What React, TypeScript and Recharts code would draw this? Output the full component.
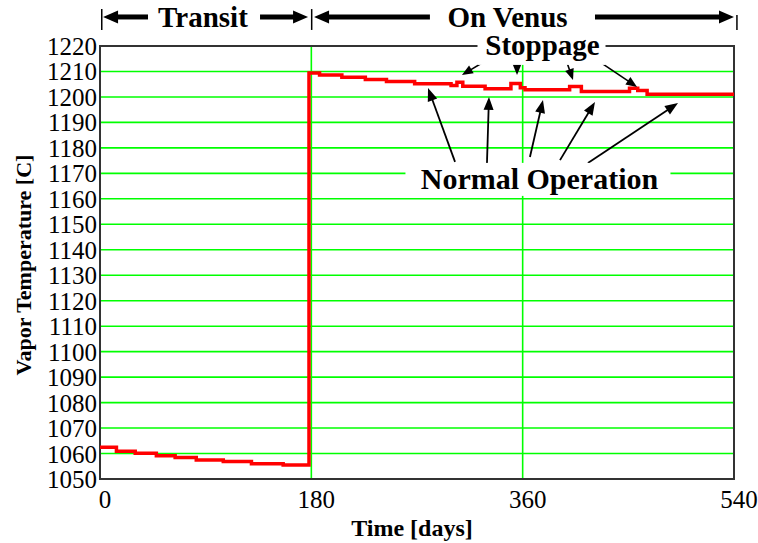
import React from 'react';
import {
  LineChart,
  Line,
  XAxis,
  YAxis,
  CartesianGrid,
  ReferenceLine,
  ReferenceDot,
  ReferenceArea,
} from 'recharts';

// ---- data ----
const days = [0, 14, 30, 48, 64, 82, 105, 129, 156, 178, 187, 206, 226, 244, 268, 299, 304, 309, 328, 350, 358, 362, 400, 410, 451, 458, 466, 540];
const temps = [
  1062.5, 1060.9, 1060.1, 1059.1, 1058.4, 1057.5, 1056.9, 1056.0, 1055.5,
  1209.4, 1208.6, 1207.7, 1206.8, 1206.1, 1205.2, 1204.5, 1205.8, 1204.2, 1203.2, 1205.3, 1203.6, 1202.8, 1204.1, 1202.1, 1203.4, 1202.5, 1201.1, 1201.1,
];
const xTicks = [0, 180, 360, 540];
const yTicks = [1050, 1060, 1070, 1080, 1090, 1100, 1110, 1120, 1130, 1140, 1150, 1160, 1170, 1180, 1190, 1200, 1210, 1220];

// annotation geometry in data units (day, °C)
const headerY = 1231.4;
const headerBars = [
  { x: 1.5, top: 1234.5, bottom: 1226.3 },
  { x: 180.3, top: 1234.5, bottom: 1226.3 },
  { x: 542.5, top: 1232.2, bottom: 1226.3 },
];
const headerArrows = [
  { from: 40.9, to: 2.6 },
  { from: 136.3, to: 177.2 },
  { from: 281.0, to: 182.3 },
  { from: 421.6, to: 540.0 },
];
const headerLabels = [
  { text: 'Transit', x: 87.7, y: 1227.4 },
  { text: 'On Venus', x: 347.1, y: 1227.6 },
];
const stoppageArrows = [
  { x1: 329.6, y1: 1214.5, x2: 308.3, y2: 1208.6 },
  { x1: 355.2, y1: 1215.3, x2: 355.2, y2: 1208.6 },
  { x1: 396.1, y1: 1215.7, x2: 402.9, y2: 1206.7 },
  { x1: 425.9, y1: 1213.7, x2: 457.4, y2: 1203.9 },
];
const normalArrows = [
  { x1: 302.4, y1: 1174.5, x2: 279.4, y2: 1203.5 },
  { x1: 329.6, y1: 1174.1, x2: 331.3, y2: 1200.0 },
  { x1: 366.2, y1: 1176.4, x2: 377.3, y2: 1198.8 },
  { x1: 391.8, y1: 1175.2, x2: 421.6, y2: 1198.0 },
  { x1: 415.6, y1: 1174.1, x2: 492.3, y2: 1197.6 },
];
const stoppageLabel = { text: 'Stoppage', x: 376.9, y: 1216.5 };
const normalLabel = { text: 'Normal Operation', x: 374.3, y: 1163.9 };

const data = days.map((d, i) => ({ day: d, temp: temps[i] }));

const FONT = '"Liberation Serif", "Times New Roman", Times, serif';

function arrowShape(w: number, headLen: number, headW: number) {
  return (p: any) => {
    const { x1, y1, x2, y2 } = p;
    if ([x1, y1, x2, y2].some((v) => typeof v !== 'number' || isNaN(v))) return <g />;
    const dx = x2 - x1;
    const dy = y2 - y1;
    const L = Math.hypot(dx, dy) || 1;
    const ux = dx / L;
    const uy = dy / L;
    const bx = x2 - ux * headLen;
    const by = y2 - uy * headLen;
    const nx = -uy;
    const ny = ux;
    return (
      <g>
        <line x1={x1} y1={y1} x2={bx + ux} y2={by + uy} stroke="#000" strokeWidth={w} />
        <polygon
          points={`${x2},${y2} ${bx + (nx * headW) / 2},${by + (ny * headW) / 2} ${bx - (nx * headW) / 2},${by - (ny * headW) / 2}`}
          fill="#000"
        />
      </g>
    );
  };
}

const barShape = (p: any) => <line x1={p.x1} y1={p.y1} x2={p.x2} y2={p.y2} stroke="#000" strokeWidth={1.5} />;

function textShape(text: string, size: number, rect?: { l: number; r: number; t: number; b: number }) {
  return (p: any) => (
    <g>
      {rect && (
        <rect x={p.cx - rect.l} y={p.cy - rect.t} width={rect.l + rect.r} height={rect.t + rect.b} fill="#fff" />
      )}
      <text x={p.cx} y={p.cy} textAnchor="middle" fontFamily={FONT} fontWeight="bold" fontSize={size} fill="#000">
        {text}
      </text>
    </g>
  );
}

const YTick = (p: any) => (
  <text x={p.x} y={p.y} dy="0.36em" textAnchor="end" fontFamily={FONT} fontSize={25} fill="#000">
    {p.payload.value}
  </text>
);
const XTick = (p: any) => (
  <text x={p.x + 5} y={p.y} dy="0.71em" textAnchor="middle" fontFamily={FONT} fontSize={25} fill="#000">
    {p.payload.value}
  </text>
);

const XTitle = (p: any) => {
  const vb = p.viewBox || { x: 100, y: 479, width: 634, height: 64 };
  return (
    <text x={vb.x + vb.width / 2 - 5} y={vb.y + 57} textAnchor="middle" fontFamily={FONT} fontWeight="bold" fontSize={24} fill="#000">
      Time [days]
    </text>
  );
};
const YTitle = (p: any) => {
  const vb = p.viewBox || { x: 0, y: 46, width: 100, height: 433 };
  const cx = vb.x + 31;
  const cy = vb.y + vb.height / 2 + 2.5;
  return (
    <text x={cx} y={cy} transform={`rotate(-90, ${cx}, ${cy})`} textAnchor="middle" fontFamily={FONT} fontWeight="bold" fontSize={22} fill="#000">
      Vapor Temperature [C]
    </text>
  );
};

export default function App() {
  return (
    <div style={{ position: 'absolute', left: 0, top: 0, width: 758, height: 543, background: '#fff' }}>
      <LineChart width={758} height={543} data={data} margin={{ top: 46, right: 24, bottom: 0, left: 0 }}>
        <CartesianGrid stroke="#00ff00" strokeWidth={1.6} horizontal vertical />
        <XAxis
          dataKey="day"
          type="number"
          domain={[0, 540]}
          ticks={xTicks}
          height={64}
          axisLine={false}
          tickLine={false}
          tickSize={0}
          tickMargin={11}
          tick={XTick}
          label={XTitle}
          allowDataOverflow
        />
        <YAxis
          type="number"
          domain={[1050, 1220]}
          ticks={yTicks}
          width={100}
          axisLine={false}
          tickLine={false}
          tickSize={0}
          tickMargin={3}
          tick={YTick}
          label={YTitle}
          interval={0}
          allowDataOverflow
        />
        <ReferenceArea x1={0} x2={540} y1={1050} y2={1220} fill="none" fillOpacity={0} stroke="#333" strokeWidth={2} ifOverflow="visible" />
        <Line dataKey="temp" type="stepAfter" stroke="#ff0000" strokeWidth={3.5} dot={false} activeDot={false} isAnimationActive={false} />
        <ReferenceDot x={normalLabel.x} y={normalLabel.y} r={0} ifOverflow="visible" shape={textShape(normalLabel.text, 30, { l: 134, r: 131, t: 26, b: 7 })} />
        <ReferenceDot x={stoppageLabel.x} y={stoppageLabel.y} r={0} ifOverflow="visible" shape={textShape(stoppageLabel.text, 29, { l: 65, r: 63, t: 22, b: 10 })} />
        {headerLabels.map((h, i) => (
          <ReferenceDot key={'hl' + i} x={h.x} y={h.y} r={0} ifOverflow="visible" shape={textShape(h.text, 29)} />
        ))}
        {headerBars.map((b, i) => (
          <ReferenceLine key={'hb' + i} segment={[{ x: b.x, y: b.top }, { x: b.x, y: b.bottom }]} ifOverflow="visible" shape={barShape} />
        ))}
        {headerArrows.map((a, i) => (
          <ReferenceLine key={'ha' + i} segment={[{ x: a.from, y: headerY }, { x: a.to, y: headerY }]} ifOverflow="visible" shape={arrowShape(5, 15, 13)} />
        ))}
        {stoppageArrows.map((a, i) => (
          <ReferenceLine key={'sa' + i} segment={[{ x: a.x1, y: a.y1 }, { x: a.x2, y: a.y2 }]} ifOverflow="visible" shape={arrowShape(1.6, 11, 9)} />
        ))}
        {normalArrows.map((a, i) => (
          <ReferenceLine key={'na' + i} segment={[{ x: a.x1, y: a.y1 }, { x: a.x2, y: a.y2 }]} ifOverflow="visible" shape={arrowShape(1.8, 13, 10)} />
        ))}
      </LineChart>
    </div>
  );
}
